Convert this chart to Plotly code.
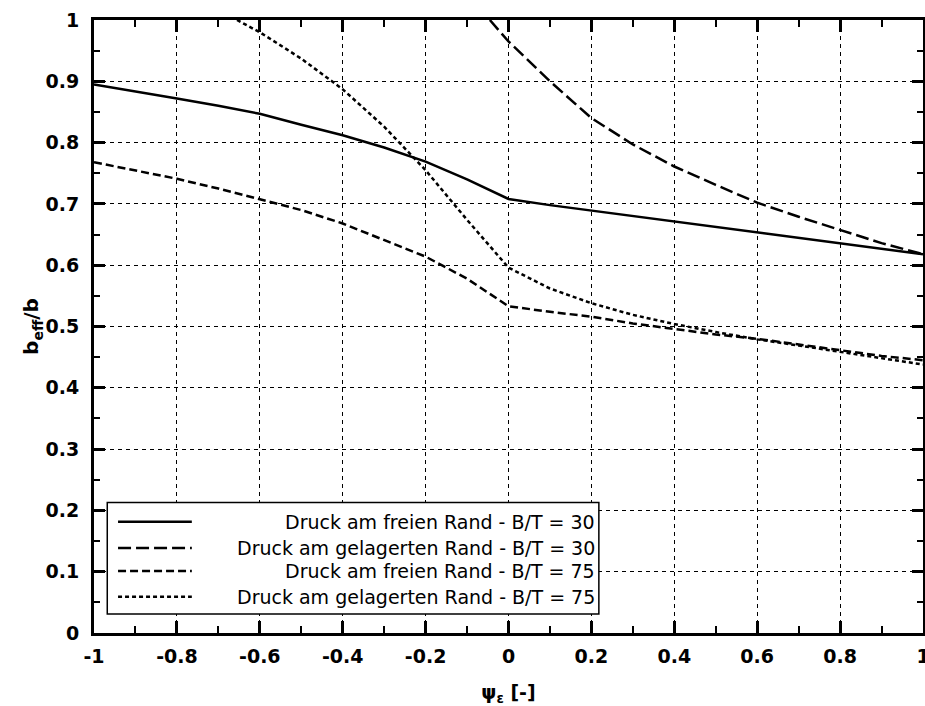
import plotly.graph_objects as go

# ---------------- data ----------------
free_30_x = [-1.0, -0.9, -0.8, -0.7, -0.6, -0.5, -0.4, -0.3, -0.2, -0.1, 0.0,
             0.1, 0.2, 0.3, 0.4, 0.5, 0.6, 0.7, 0.8, 0.9, 1.0]
free_30_y = [0.895, 0.884, 0.872, 0.860, 0.847, 0.829, 0.812, 0.792, 0.769, 0.740, 0.708,
             0.698, 0.689, 0.680, 0.671, 0.662, 0.654, 0.644, 0.635, 0.626, 0.618]

supp_30_x = [-0.045, 0.0, 0.1, 0.2, 0.3, 0.4, 0.5, 0.6, 0.7, 0.8, 0.9, 1.0]
supp_30_y = [1.0, 0.965, 0.900, 0.840, 0.797, 0.761, 0.731, 0.702, 0.679, 0.657, 0.636, 0.618]

free_75_x = [-1.0, -0.9, -0.8, -0.7, -0.6, -0.5, -0.4, -0.3, -0.2, -0.1, 0.0,
             0.1, 0.2, 0.3, 0.4, 0.5, 0.6, 0.7, 0.8, 0.9, 1.0]
free_75_y = [0.768, 0.754, 0.741, 0.725, 0.708, 0.690, 0.668, 0.641, 0.614, 0.578, 0.533,
             0.524, 0.516, 0.505, 0.496, 0.487, 0.480, 0.471, 0.461, 0.452, 0.445]

supp_75_x = [-0.655, -0.6, -0.5, -0.4, -0.3, -0.2, -0.1, 0.0,
             0.1, 0.2, 0.3, 0.4, 0.5, 0.6, 0.7, 0.8, 0.9, 1.0]
supp_75_y = [1.0, 0.980, 0.937, 0.887, 0.826, 0.755, 0.674, 0.596,
             0.562, 0.538, 0.519, 0.504, 0.491, 0.479, 0.469, 0.459, 0.449, 0.438]

series_names = [
    "Druck am freien Rand - B/T = 30",
    "Druck am gelagerten Rand - B/T = 30",
    "Druck am freien Rand - B/T = 75",
    "Druck am gelagerten Rand - B/T = 75",
]

x_tick_vals = [-1, -0.8, -0.6, -0.4, -0.2, 0, 0.2, 0.4, 0.6, 0.8, 1]
x_tick_text = ["-1", "-0.8", "-0.6", "-0.4", "-0.2", "0", "0.2", "0.4", "0.6", "0.8", "1"]
y_tick_vals = [0, 0.1, 0.2, 0.3, 0.4, 0.5, 0.6, 0.7, 0.8, 0.9, 1]
y_tick_text = ["0", "0.1", "0.2", "0.3", "0.4", "0.5", "0.6", "0.7", "0.8", "0.9", "1"]

x_title = "ψ<sub>ε</sub> [-]"
y_title = "b<sub>eff</sub>/b"

# ---------------- styling ----------------
FONT = "DejaVu Sans"
dashes = ["solid", "13px,5px", "8px,4px", "4px,3px"]
LW = 2.5

fig = go.Figure()
all_x = [free_30_x, supp_30_x, free_75_x, supp_75_x]
all_y = [free_30_y, supp_30_y, free_75_y, supp_75_y]
for xs, ys, nm, ds in zip(all_x, all_y, series_names, dashes):
    fig.add_trace(go.Scatter(x=xs, y=ys, mode="lines", name=nm, showlegend=False,
                             line=dict(color="black", width=LW, dash=ds)))

# ---------------- custom legend (right-aligned text) ----------------
shapes = [dict(type="rect", xref="paper", yref="paper",
               x0=0.016, x1=0.609, y0=0.031, y1=0.213,
               line=dict(color="black", width=1.5), fillcolor="white", layer="above")]
row_y = [0.1816, 0.1387, 0.1011, 0.0592]
annotations = []
for ry, nm, ds in zip(row_y, series_names, dashes):
    shapes.append(dict(type="line", xref="paper", yref="paper",
                       x0=0.029, x1=0.118, y0=ry, y1=ry, layer="above",
                       line=dict(color="black", width=LW, dash=ds)))
    annotations.append(dict(xref="paper", yref="paper", x=0.6064, y=ry,
                            xanchor="right", yanchor="middle", showarrow=False,
                            text=nm, font=dict(family=FONT, size=19, color="black")))

axis_common = dict(
    showline=True, linecolor="black", linewidth=3, mirror="ticks",
    ticks="inside", tickcolor="black", tickwidth=2.5,
    showgrid=True, gridcolor="black", gridwidth=1, griddash="4px,4px",
    zeroline=False, automargin=False, ticklabeloverflow="allow",
    tickfont=dict(family=FONT, size=19, color="black", weight="bold"),
)

fig.update_layout(
    width=925, height=706,
    margin=dict(l=94, r=2, t=20, b=73),
    paper_bgcolor="white", plot_bgcolor="white",
    font=dict(family=FONT, color="black"),
    shapes=shapes, annotations=annotations,
    xaxis=dict(range=[-1, 1], tickvals=x_tick_vals, ticktext=x_tick_text, ticklen=12,
               ticklabelstandoff=4,
               minor=dict(dtick=0.1, ticks="inside", ticklen=7, tickcolor="black", tickwidth=2, showgrid=False),
               title=dict(text=x_title, font=dict(family=FONT, size=19, weight="bold"), standoff=20),
               **axis_common),
    yaxis=dict(range=[0, 1], tickvals=y_tick_vals, ticktext=y_tick_text, ticklen=11,
               ticklabelstandoff=8,
               minor=dict(dtick=0.05, ticks="inside", ticklen=6, tickcolor="black", tickwidth=2, showgrid=False),
               title=dict(text=y_title, font=dict(family=FONT, size=20, weight="bold"), standoff=0),
               **axis_common),
)

fig.write_html("out.html", config={"displayModeBar": False},
               post_script="document.body.style.margin='0';document.body.style.overflow='hidden';")
